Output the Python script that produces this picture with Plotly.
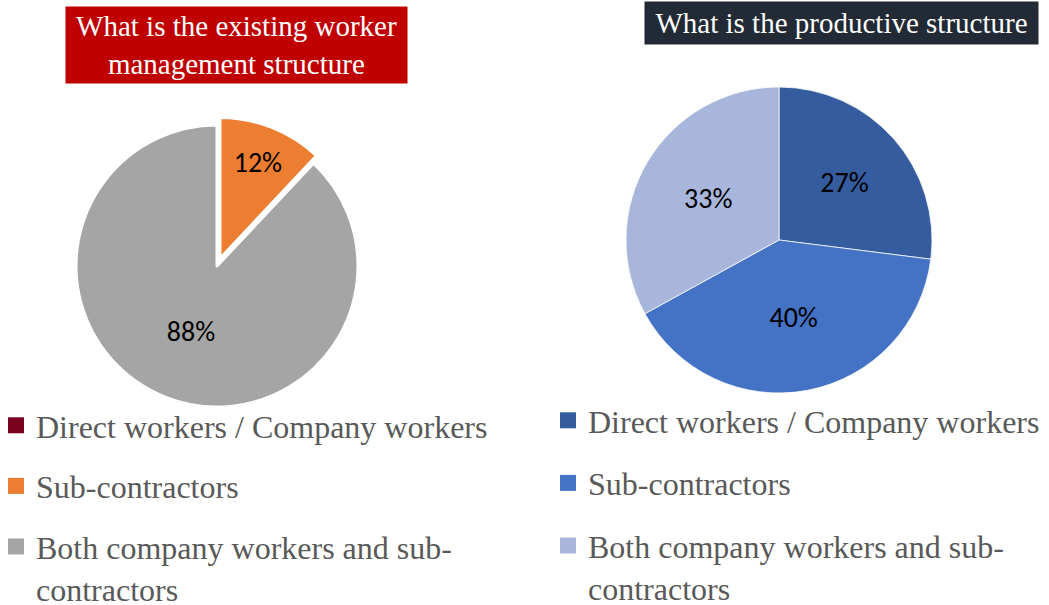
import plotly.graph_objects as go

categories = ["Direct workers / Company workers", "Sub-contractors",
              "Both company workers and sub-<br>contractors"]
mgmt_values = [0, 12, 88]
prod_values = [27, 40, 33]
mgmt_colors = ["#7A0020", "#ED7D31", "#A5A5A5"]
prod_colors = ["#345C9F", "#4472C4", "#A8B6DB"]
mgmt_pull = [0, 0.057, 0]
title_left = "What is the existing worker<br>management structure"
title_right = "What is the productive structure"

W, H = 1049, 605

def txt(vals):
    return [f"{v}%" if v else "" for v in vals]

fig = go.Figure()
fig.add_trace(go.Pie(
    labels=categories, values=mgmt_values, text=txt(mgmt_values), textinfo="text",
    sort=False, direction="clockwise", rotation=0, pull=mgmt_pull,
    marker=dict(colors=mgmt_colors, line=dict(color="white", width=3)),
    textposition="inside", insidetextorientation="horizontal",
    textfont=dict(family="Carlito, Lato, sans-serif", size=28, color="black"),
    domain=dict(x=[68 / W, 366 / W], y=[190 / H, 488 / H]),
    showlegend=False, hoverinfo="label+percent"))
fig.add_trace(go.Pie(
    labels=categories, values=prod_values, text=txt(prod_values), textinfo="text",
    sort=False, direction="clockwise", rotation=0,
    marker=dict(colors=prod_colors, line=dict(color="white", width=0.75)),
    textposition="inside", insidetextorientation="horizontal",
    textfont=dict(family="Carlito, Lato, sans-serif", size=28, color="black"),
    domain=dict(x=[626 / W, 932 / W], y=[212 / H, 518 / H]),
    showlegend=False, hoverinfo="label+percent"))

for i, (lab, c) in enumerate(zip(categories, mgmt_colors)):
    fig.add_trace(go.Scatter(x=[None], y=[None], mode="markers", name=lab,
                             marker=dict(symbol="square", size=16, color=c),
                             legend="legend", legendgroup=f"a{i}", showlegend=True))
for i, (lab, c) in enumerate(zip(categories, prod_colors)):
    fig.add_trace(go.Scatter(x=[None], y=[None], mode="markers", name=lab,
                             marker=dict(symbol="square", size=16, color=c),
                             legend="legend2", legendgroup=f"b{i}", showlegend=True))

legend_common = dict(yanchor="top", xanchor="left", valign="top",
                     traceorder="grouped",
                     bgcolor="rgba(0,0,0,0)", borderwidth=0,
                     font=dict(family="Liberation Serif, Times New Roman, serif",
                               size=32, color="#595959"))

fig.update_layout(
    width=W, height=H,
    margin=dict(l=0, r=0, t=0, b=0, autoexpand=False),
    paper_bgcolor="white", plot_bgcolor="white",
    xaxis=dict(visible=False), yaxis=dict(visible=False),
    legend=dict(x=-4 / W, y=(H - 398) / H, tracegroupgap=16, **legend_common),
    legend2=dict(x=548 / W, y=(H - 393) / H, tracegroupgap=18, **legend_common),
    annotations=[
        dict(text=title_left, xref="paper", yref="paper",
             x=236.5 / W, y=(H - 45) / H, xanchor="center", yanchor="middle",
             showarrow=False, width=341, height=76, bgcolor="#C00000", borderpad=0,
             font=dict(family="Liberation Serif, Times New Roman, serif", size=29, color="white")),
        dict(text=title_right, xref="paper", yref="paper",
             x=841.5 / W, y=(H - 23) / H, xanchor="center", yanchor="middle",
             showarrow=False, width=393, height=42, bgcolor="#222A35", borderpad=0,
             font=dict(family="Liberation Serif, Times New Roman, serif", size=29, color="white")),
    ],
)

fig.write_html("out.html", config={"displayModeBar": False},
               post_script="document.body.style.margin='0px';")
